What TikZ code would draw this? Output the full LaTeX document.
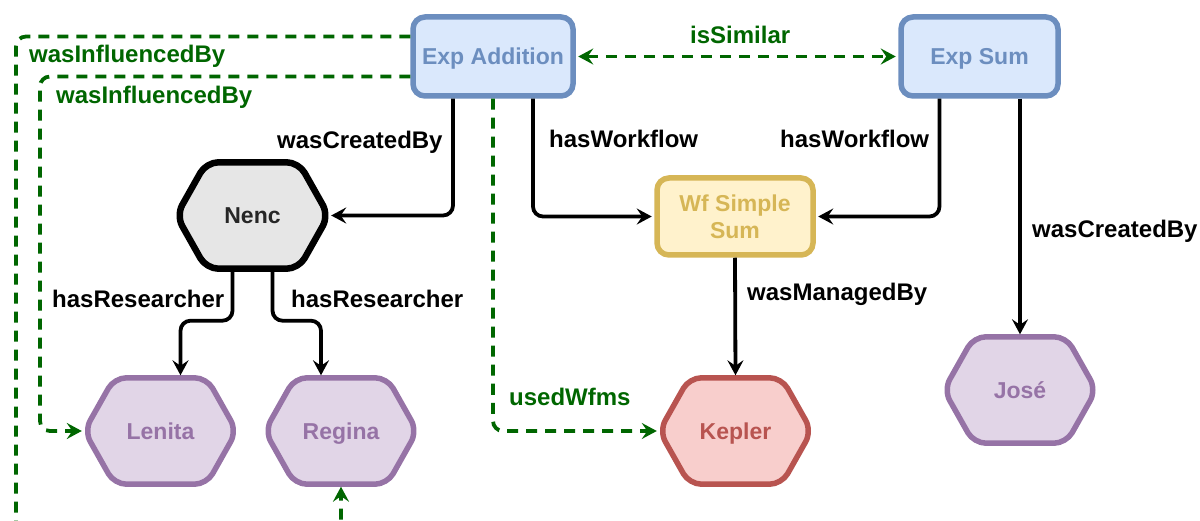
\documentclass[tikz,border=0pt]{standalone}
\usepackage{fontspec}
\setmainfont{Liberation Sans}
\usetikzlibrary{arrows.meta,calc}

\definecolor{bluefill}{HTML}{DAE8FC}
\definecolor{bluestroke}{HTML}{6C8EBF}
\definecolor{yellowfill}{HTML}{FFF2CC}
\definecolor{yellowstroke}{HTML}{D6B656}
\definecolor{purplefill}{HTML}{E1D5E7}
\definecolor{purplestroke}{HTML}{9673A6}
\definecolor{redfill}{HTML}{F8CECC}
\definecolor{redstroke}{HTML}{B85450}
\definecolor{grayfill}{HTML}{E6E6E6}
\definecolor{relgreen}{HTML}{006600}

\pgfdeclarelayer{background}
\pgfsetlayers{background,main}

\tikzset{
  nodefont/.style={font=\fontsize{23}{27}\selectfont\bfseries},
  oneline/.style={text height=16.5pt, text depth=0pt},
  boxnode/.style={rectangle, rounded corners=12pt, line width=5.5pt, nodefont,
    align=center, inner sep=0pt, minimum height=79pt},
  bluebox/.style={boxnode, draw=bluestroke, fill=bluefill, text=bluestroke, oneline},
  yellowbox/.style={boxnode, draw=yellowstroke, fill=yellowfill, text=yellowstroke},
  hexbox/.style={rectangle, inner sep=0pt, minimum width=152pt,
    minimum height=106pt, nodefont, oneline},
  hexline/.style={line width=5.5pt, rounded corners=12pt, line join=round},
  relation/.style={line width=3.8pt, rounded corners=10pt,
    -{Stealth[length=15pt,width=16pt,inset=5.5pt]}, shorten >=2.5pt},
  blackrel/.style={relation, draw=black},
  greenrel/.style={relation, draw=relgreen, dash pattern=on 11pt off 8pt},
  rellabel/.style={inner sep=0pt, anchor=base west,
    font=\fontsize{24}{28}\selectfont\bfseries},
}

% hexagon node: name, centre, outline style, text colour, text
\newcommand{\hexnode}[5]{%
  \node[hexbox, text=#4] (#1) at (#2) {#5};
  \begin{pgfonlayer}{background}
    \path[hexline, #3] (#1.west) -- ($(#1.north west)+(30,0)$)
      -- ($(#1.north east)+(-30,0)$) -- (#1.east)
      -- ($(#1.south east)+(-30,0)$) -- ($(#1.south west)+(30,0)$) -- cycle;
  \end{pgfonlayer}
}

\begin{document}
\begin{tikzpicture}[x=1pt, y=-1pt]
\useasboundingbox (0,0) rectangle (1200,521);

% experiments and workflow
\node[bluebox, minimum width=160pt] (ea) at (493,56.5) {Exp Addition};
\node[bluebox, minimum width=157pt] (es) at (979.5,56.5) {Exp Sum};
\node[yellowbox, minimum width=156pt, minimum height=77pt] (wf) at (735,216.5) {Wf Simple\\Sum};

% people, groups and tools
\hexnode{nenc}{252.5,215.5}{draw=black, fill=grayfill, line width=6.5pt}{black!85}{Nenc}
\hexnode{lenita}{160.5,431}{draw=purplestroke, fill=purplefill}{purplestroke}{Lenita}
\hexnode{regina}{341,431}{draw=purplestroke, fill=purplefill}{purplestroke}{Regina}
\hexnode{kepler}{735.5,431}{draw=redstroke, fill=redfill}{redstroke}{Kepler}
\hexnode{jose}{1020,390}{draw=purplestroke, fill=purplefill}{purplestroke}{José}

% waypoints of the long influence loops
\coordinate (loopouter) at (16,533);
\coordinate (loopinner) at (40,431);

% black relations
\draw[blackrel] ($(ea.south)+(-40,0)$) |- (nenc.east);
\draw[blackrel] ($(ea.south)+(40,0)$) |- (wf.west);
\draw[blackrel] ($(es.south)+(-40,0)$) |- (wf.east);
\draw[blackrel] (es.south -| jose.north) -- (jose.north);
\draw[blackrel] (wf.south) -- (kepler.north);
\draw[blackrel] ($(nenc.south)+(-20,0)$) -- ++(0,52) -| ($(lenita.north)+(20,0)$);
\draw[blackrel] ($(nenc.south)+(20,0)$) -- ++(0,52) -| ($(regina.north)+(-20,0)$);

% green dashed relations
\draw[greenrel, {Stealth[length=15pt,width=16pt,inset=5.5pt]}-{Stealth[length=15pt,width=16pt,inset=5.5pt]}, shorten <=2.5pt] (ea.east) -- (es.west);
\draw[greenrel] ($(ea.west)+(0,-20)$) -| (loopouter) -| (regina.south);
\draw[greenrel] ($(ea.west)+(0,20)$) -| (loopinner) -- (lenita.west);
\draw[greenrel] (ea.south) |- (kepler.west);

% relation labels
\node[rellabel, text=relgreen] (lbinfl1) at (29,63) {wasInfluencedBy};
\node[rellabel, text=relgreen] (lbinfl2) at (56,104) {wasInfluencedBy};
\node[rellabel, text=relgreen] (lbsim) at (690,44) {isSimilar};
\node[rellabel, text=relgreen] (lbused) at (509,406) {usedWfms};
\node[rellabel] (lbcreated1) at (277,149) {wasCreatedBy};
\node[rellabel] (lbwf1) at (549,148) {hasWorkflow};
\node[rellabel] (lbwf2) at (780,148) {hasWorkflow};
\node[rellabel] (lbcreated2) at (1032,238) {wasCreatedBy};
\node[rellabel] (lbmanaged) at (747,301) {wasManagedBy};
\node[rellabel] (lbres1) at (52,308) {hasResearcher};
\node[rellabel] (lbres2) at (291,308) {hasResearcher};
\end{tikzpicture}
\end{document}
